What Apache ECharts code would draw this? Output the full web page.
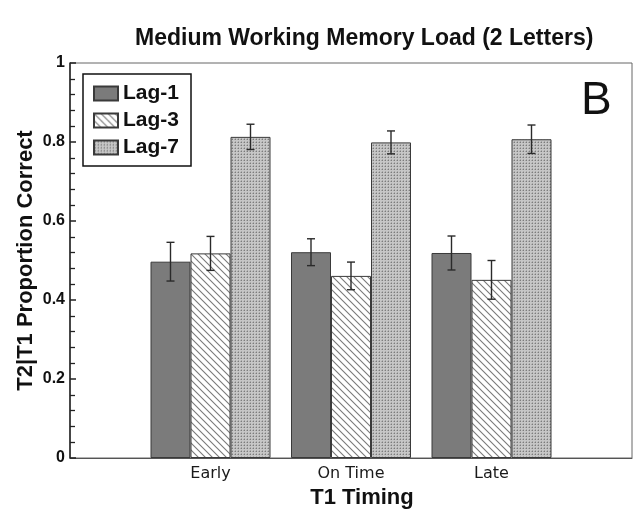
<!DOCTYPE html>
<html><head><meta charset="utf-8">
<script src="https://cdn.jsdelivr.net/npm/echarts@6/dist/echarts.min.js"></script>
<style>html,body{margin:0;padding:0;background:#fff}#c{width:639px;height:514px}</style>
</head><body><div id="c"></div>
<script>
// ---- data ----
const categories = ['', 'Early', 'On Time', 'Late', ''];
const seriesNames = ['Lag-1', 'Lag-3', 'Lag-7'];
const lag1Means = [0.497, 0.521, 0.519];
const lag3Means = [0.518, 0.461, 0.451];
const lag7Means = [0.813, 0.799, 0.807];
const lag1Err = [0.049, 0.034, 0.043];
const lag3Err = [0.043, 0.035, 0.049];
const lag7Err = [0.032, 0.029, 0.036];
const yTicks = [0, 0.2, 0.4, 0.6, 0.8, 1];

// ---- patterns ----
function hatch() {
  const n = 7;
  const c = document.createElement('canvas'); c.width = n; c.height = n;
  const g = c.getContext('2d');
  g.fillStyle = '#fff'; g.fillRect(0, 0, n, n);
  g.strokeStyle = '#7a7a7a'; g.lineWidth = 1.1;
  g.beginPath();
  g.moveTo(-1, -1); g.lineTo(n + 1, n + 1);
  g.moveTo(-1, n - 1); g.lineTo(1, n + 1);
  g.moveTo(n - 1, -1); g.lineTo(n + 1, 1);
  g.stroke();
  return c;
}
function dots() {
  const c = document.createElement('canvas'); c.width = 3; c.height = 3;
  const g = c.getContext('2d');
  g.fillStyle = '#c6c6c6'; g.fillRect(0, 0, 3, 3);
  g.fillStyle = '#7c7c7c'; g.fillRect(1, 1, 1, 1);
  g.fillStyle = '#a8a8a8'; g.fillRect(0, 1, 1, 1); g.fillRect(1, 0, 1, 1);
  return c;
}
const fills = ['#7b7b7b', { image: hatch(), repeat: 'repeat' }, { image: dots(), repeat: 'repeat' }];
const means = [lag1Means, lag3Means, lag7Means];
const errs = [lag1Err, lag3Err, lag7Err];
const BW = 40;

const series = [];
seriesNames.forEach((name, s) => {
  series.push({
    name, type: 'bar', barWidth: BW, barGap: '0%',
    data: categories.map((c, i) => (i >= 1 && i <= 3) ? means[s][i - 1] : null),
    itemStyle: { color: fills[s], borderColor: '#3a3a3a', borderWidth: 1 },
    z: 2
  });
});
seriesNames.forEach((name, s) => {
  series.push({
    type: 'custom',
    data: means[s].map((m, k) => [k + 1, m - errs[s][k], m + errs[s][k]]),
    renderItem(params, api) {
      const lo = api.coord([api.value(0), api.value(1)]);
      const hi = api.coord([api.value(0), api.value(2)]);
      const x = lo[0] + (s - 1) * BW;
      const cw = 4;
      const st = { stroke: '#2a2a2a', lineWidth: 1.4 };
      return { type: 'group', children: [
        { type: 'line', shape: { x1: x, y1: lo[1], x2: x, y2: hi[1] }, style: st },
        { type: 'line', shape: { x1: x - cw, y1: lo[1], x2: x + cw, y2: lo[1] }, style: st },
        { type: 'line', shape: { x1: x - cw, y1: hi[1], x2: x + cw, y2: hi[1] }, style: st }
      ]};
    },
    z: 5, silent: true
  });
});

const chart = echarts.init(document.getElementById('c'), null, { renderer: 'canvas' });
chart.setOption({
  animation: false,
  backgroundColor: '#fff',
  title: {
    text: 'Medium Working Memory Load (2 Letters)',
    left: 130, top: 22,
    textStyle: { fontFamily: 'Liberation Sans, Arial', fontWeight: 'bold', fontSize: 23, color: '#111' }
  },
  grid: { left: 70, right: 7, top: 63, bottom: 56, show: true, borderColor: '#666', borderWidth: 1 },
  legend: {
    orient: 'vertical', left: 83, top: 74,
    data: seriesNames.map(n => ({ name: n, icon: 'rect' })),
    itemWidth: 24, itemHeight: 14, itemGap: 6,
    padding: [9, 12, 8, 10],
    borderColor: '#111', borderWidth: 1.5,
    textStyle: { fontFamily: 'Liberation Sans, Arial', fontWeight: 'bold', fontSize: 21, lineHeight: 21, color: '#111' }
  },
  xAxis: {
    type: 'category', data: categories, boundaryGap: false,
    axisLine: { lineStyle: { color: '#555', width: 1 } },
    axisTick: { show: false },
    axisLabel: { interval: 0, margin: 8, fontFamily: 'DejaVu Sans', fontSize: 16, color: '#1a1a1a' },
    name: 'T1 Timing', nameLocation: 'middle', nameGap: 27,
    nameTextStyle: { fontFamily: 'Liberation Sans, Arial', fontWeight: 'bold', fontSize: 22, color: '#111', padding: [0, 0, 0, 22] }
  },
  yAxis: {
    type: 'value', min: yTicks[0], max: yTicks[yTicks.length - 1], interval: 0.2,
    axisLine: { show: true, lineStyle: { color: '#222', width: 1.5 } },
    axisTick: { show: true, inside: true, length: 6, lineStyle: { color: '#222', width: 1.5 } },
    minorTick: { show: true, splitNumber: 5, length: 5, lineStyle: { color: '#222', width: 1.3 } },
    splitLine: { show: false },
    axisLabel: { margin: 5, fontFamily: 'Liberation Sans, Arial', fontWeight: 'bold', fontSize: 16, color: '#111' },
    name: 'T2|T1 Proportion Correct', nameLocation: 'middle', nameGap: 33, nameMoveOverlap: false,
    nameTextStyle: { fontFamily: 'Liberation Sans, Arial', fontWeight: 'bold', fontSize: 22, color: '#111' }
  },
  graphic: [{
    type: 'text', left: 581, top: 78,
    style: { text: 'B', fontFamily: 'Liberation Sans, Arial', fontSize: 46, fill: '#111' }
  }],
  series
});
</script>
</body></html>
